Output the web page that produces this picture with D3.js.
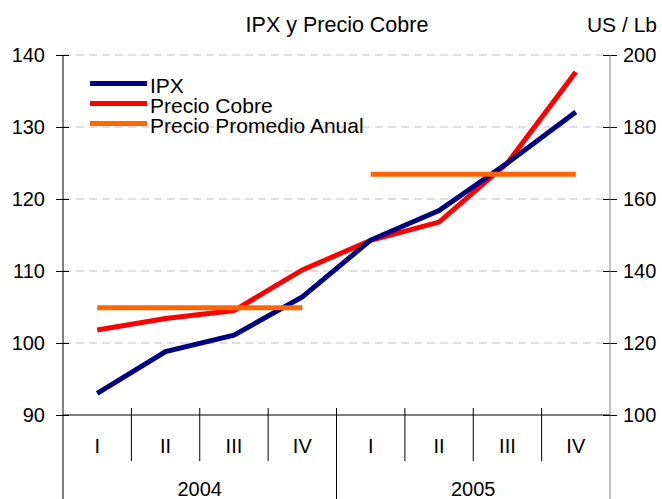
<!DOCTYPE html>
<html>
<head>
<meta charset="utf-8">
<script src="https://cdn.jsdelivr.net/npm/d3@7"></script>
<style>
  body { margin: 0; background: #fff; }
  svg text { font-family: "Liberation Sans", Arial, sans-serif; fill: #000; }
</style>
</head>
<body>
<div class="svg-container"></div>
<script>
// data
const quarters = ['I', 'II', 'III', 'IV', 'I', 'II', 'III', 'IV'];
const years = ['2004', '2005'];
const ipx = [93.0, 98.8, 101.1, 106.4, 114.3, 118.4, 125.0, 132.1];
const cobre = [123.6, 126.8, 129.0, 140.3, 148.5, 153.6, 170.0, 195.3];
const promedioAnual = [129.8, 166.9];
const leftTicks = [90, 100, 110, 120, 130, 140];
const rightTicks = [100, 120, 140, 160, 180, 200];

const svgWidth = 662;
const svgHeight = 499;
const margin = { top: 55, right: 52, bottom: 84, left: 63 };
const width = svgWidth - margin.left - margin.right;
const height = svgHeight - margin.top - margin.bottom;

const svg = d3.select('.svg-container')
  .append('svg')
  .attr('width', svgWidth)
  .attr('height', svgHeight);
const group = svg.append('g')
  .attr('transform', `translate(${margin.left}, ${margin.top})`);

const keys = quarters.map((q, i) => i);
const x = d3.scaleBand().domain(keys).range([0, width]).padding(0);
const yL = d3.scaleLinear().domain([90, 140]).range([height, 0]);
const yR = d3.scaleLinear().domain([100, 200]).range([height, 0]);
const cx = (i) => x(i) + x.bandwidth() / 2;

// gridlines
group.append('g')
  .selectAll('line')
  .data(leftTicks.slice(1))
  .join('line')
  .attr('x1', 0).attr('x2', width)
  .attr('y1', (d) => yL(d)).attr('y2', (d) => yL(d))
  .attr('stroke', '#c0c0c0')
  .attr('stroke-dasharray', '8,5');

// left axis (ticks cross the axis line)
const axL = group.append('g')
  .call(d3.axisLeft(yL).tickValues(leftTicks).tickSize(7).tickPadding(11));
axL.select('.domain').remove();
axL.selectAll('.tick line').attr('x1', 6).attr('x2', -7);
axL.selectAll('text').style('font-size', '20px');
group.append('line')
  .attr('x1', 0).attr('x2', 0).attr('y1', 0).attr('y2', svgHeight - margin.top)
  .attr('stroke', '#000');

// right axis
const axR = group.append('g')
  .attr('transform', `translate(${width}, 0)`)
  .call(d3.axisRight(yR).tickValues(rightTicks).tickSize(7).tickPadding(6));
axR.select('.domain').remove();
axR.selectAll('.tick line').attr('x1', -7).attr('x2', 7);
axR.selectAll('text').style('font-size', '20px');
group.append('line')
  .attr('x1', width).attr('x2', width).attr('y1', 0).attr('y2', svgHeight - margin.top)
  .attr('stroke', '#808080');

// bottom category axis
group.append('line')
  .attr('x1', 0).attr('x2', width).attr('y1', height).attr('y2', height)
  .attr('stroke', '#000');
group.append('g')
  .selectAll('line')
  .data(keys.slice(1))
  .join('line')
  .attr('x1', (d) => x(d)).attr('x2', (d) => x(d))
  .attr('y1', height - 7)
  .attr('y2', (d) => d % 4 === 0 ? svgHeight - margin.top : height + 46)
  .attr('stroke', '#000');
group.append('g')
  .selectAll('text')
  .data(keys)
  .join('text')
  .attr('x', (d) => cx(d))
  .attr('y', height + 38)
  .attr('text-anchor', 'middle')
  .style('font-size', '20px')
  .text((d) => quarters[d]);
group.append('g')
  .selectAll('text')
  .data(years)
  .join('text')
  .attr('x', (d, i) => x(i * 4) + x.bandwidth() * 2)
  .attr('y', height + 81)
  .attr('text-anchor', 'middle')
  .style('font-size', '20px')
  .text((d) => d);

// series
const lineL = d3.line().x((d, i) => cx(i)).y((d) => yL(d));
const lineR = d3.line().x((d, i) => cx(i)).y((d) => yR(d));

group.append('path')
  .datum(cobre)
  .attr('fill', 'none')
  .attr('stroke', '#ff0000')
  .attr('stroke-width', 5)
  .attr('d', lineR);

group.append('path')
  .datum(ipx)
  .attr('fill', 'none')
  .attr('stroke', '#000080')
  .attr('stroke-width', 5)
  .attr('d', lineL);

group.append('g')
  .selectAll('line')
  .data(promedioAnual)
  .join('line')
  .attr('x1', (d, i) => cx(i * 4))
  .attr('x2', (d, i) => cx(i * 4 + 3))
  .attr('y1', (d) => yR(d))
  .attr('y2', (d) => yR(d))
  .attr('stroke', '#ff6600')
  .attr('stroke-width', 5);

// titles
svg.append('text')
  .attr('x', 337).attr('y', 32)
  .attr('text-anchor', 'middle')
  .style('font-size', '21.5px')
  .text('IPX y Precio Cobre');
svg.append('text')
  .attr('x', 657).attr('y', 32)
  .attr('text-anchor', 'end')
  .style('font-size', '21px')
  .text('US / Lb');

// legend
const legend = [
  { name: 'IPX', color: '#000080' },
  { name: 'Precio Cobre', color: '#ff0000' },
  { name: 'Precio Promedio Anual', color: '#ff6600' },
];
const lg = svg.append('g').attr('transform', 'translate(90, 93)');
legend.forEach((d, i) => {
  lg.append('rect')
    .attr('x', 0).attr('y', i * 20 - 12)
    .attr('width', 57).attr('height', 5)
    .attr('fill', d.color);
  lg.append('text')
    .attr('x', 60).attr('y', i * 20)
    .style('font-size', '21px')
    .text(d.name);
});
</script>
</body>
</html>
